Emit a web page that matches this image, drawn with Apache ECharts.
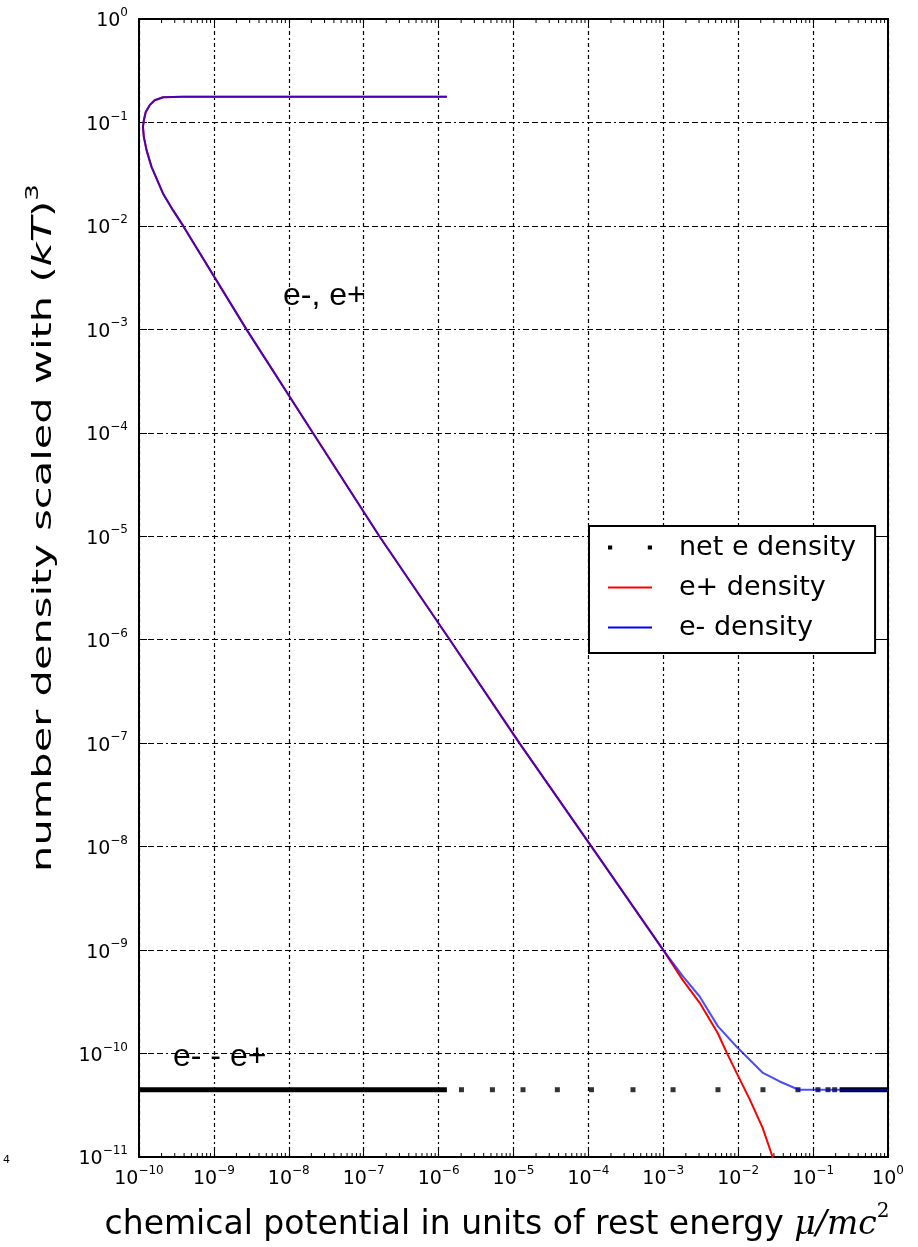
<!DOCTYPE html>
<html>
<head>
<meta charset="utf-8">
<script src="https://cdn.jsdelivr.net/npm/echarts@6/dist/echarts.min.js"></script>
<style>
  html, body { margin: 0; padding: 0; background: #fff; }
  #chart { width: 918px; height: 1247px; }
</style>
</head>
<body>
<div id="chart"></div>
<script>
// shared e+/e- curve (both coincide up to mu ~ 1e-3)
const pairMu = [1.29e-6, 1e-7, 1e-8, 1e-9, 3.9e-10, 2.1e-10, 1.62e-10, 1.39e-10, 1.23e-10, 1.16e-10, 1.13e-10,
  1.16e-10, 1.26e-10, 1.47e-10, 2.09e-10, 2.84e-10, 3.89e-10, 2.72e-9, 2.09e-8,
  1.62e-7, 1.41e-6, 1.2e-5, 1.1e-4, 1e-3]
const pairN = [0.177, 0.177, 0.177, 0.177, 0.177, 0.175, 0.164, 0.147, 0.126, 0.105, 0.0907,
  0.0726, 0.054, 0.0372, 0.0206, 0.0142, 0.01, 1e-3, 1e-4,
  1e-5, 1e-6, 1e-7, 1e-8, 1e-9]

// tails after they split
const ePlusMu = [1.82e-3, 3.06e-3, 5.32e-3, 7.02e-3, 9.55e-3, 0.0142, 0.0212, 0.0288, 0.0355]
const ePlusN = [5.13e-10, 3.09e-10, 1.58e-10, 1.02e-10, 6.46e-11, 3.63e-11, 1.91e-11, 1.0e-11, 6.3e-12]
const eMinusMu = [1.83e-3, 3.06e-3, 5.37e-3, 9.46e-3, 0.0214, 0.0358, 0.0643, 1]
const eMinusN = [5.56e-10, 3.56e-10, 1.83e-10, 1.17e-10, 6.49e-11, 5.37e-11, 4.47e-11, 4.47e-11]

// net e density
const netN = 4.47e-11
const netLeftMu = [1e-10, 1.29e-6]
const netDotsMu = [2.02e-6, 5.23e-6, 1.34e-5, 3.85e-5, 1.1e-4, 3.94e-4, 1.35e-3, 5.37e-3, 0.0214,
  0.0628, 0.116, 0.158, 0.194]
const netRightMu = [0.226, 1]

const xMin = 1e-10, xMax = 1
const yMin = 1e-11, yMax = 1

const zip = (xs, ys) => xs.map((x, i) => [x, ys[i]])
const pairData = zip(pairMu, pairN)

// minor ticks of the x axis (2..9 in each decade)
const minorTicks = []
for (let e = -10; e < 0; e++) {
  for (let k = 2; k <= 9; k++) minorTicks.push([k * Math.pow(10, e), yMin])
}

const font = 'DejaVu Sans'
const supLabel = v => {
  const e = Math.round(Math.log10(v))
  return '{b|10}{e|' + String(e).replace('-', '\u2212') + '}'
}
const tickRich = {
  b: { fontFamily: font, fontSize: 19, color: '#000', lineHeight: 24, verticalAlign: 'bottom' },
  e: { fontFamily: font, fontSize: 12, color: '#000', lineHeight: 13, verticalAlign: 'top' }
}
const hGrid = { color: '#000', width: 1.2, type: [6, 3, 6, 3, 6, 3, 2, 3] }
const vGrid = { color: '#000', width: 1.2, type: [4, 3, 2, 3] }

const chart = echarts.init(document.getElementById('chart'), null, { renderer: 'canvas' })

chart.setOption({
  animation: false,
  backgroundColor: '#fff',
  grid: {
    left: 139, right: 30, top: 19, bottom: 90,
    show: true, borderColor: '#000', borderWidth: 2, backgroundColor: 'transparent'
  },
  legend: {
    orient: 'vertical',
    left: 589,
    top: 526,
    padding: [8, 19, 12, 19],
    itemGap: 13,
    itemWidth: 44,
    itemHeight: 14,
    symbolKeepAspect: true,
    borderColor: '#000',
    borderWidth: 2,
    backgroundColor: '#fff',
    textStyle: { fontFamily: font, fontSize: 27, color: '#000', lineHeight: 27, padding: [0, 0, 0, 22] },
    data: [
      { name: 'net e density', icon: 'path://M0,0 L4,0 L4,4 L0,4 Z M38,0 L42,0 L42,4 L38,4 Z', itemStyle: { color: '#000' } },
      { name: 'e+ density', icon: 'path://M0,0 L44,0 L44,2 L0,2 Z', itemStyle: { color: '#ff0000' } },
      { name: 'e- density', icon: 'path://M0,0 L44,0 L44,2 L0,2 Z', itemStyle: { color: '#0000ff' } }
    ]
  },
  xAxis: [
    {
      type: 'log', logBase: 10, min: xMin, max: xMax, interval: 1,
      axisLine: { show: false },
      axisTick: { inside: true, length: 8, lineStyle: { color: '#000', width: 1 } },
      axisLabel: { margin: 8, formatter: supLabel, rich: tickRich },
      splitLine: { show: true, lineStyle: vGrid }
    },
    {
      type: 'log', logBase: 10, min: xMin, max: xMax, interval: 1, position: 'top',
      axisLine: { show: false },
      axisTick: { inside: true, length: 8, lineStyle: { color: '#000', width: 1 } },
      axisLabel: { show: false },
      splitLine: { show: false }
    }
  ],
  yAxis: [
    {
      type: 'log', logBase: 10, min: yMin, max: yMax, interval: 1,
      axisLine: { show: false },
      axisTick: { inside: true, length: 8, lineStyle: { color: '#000', width: 1 } },
      axisLabel: { margin: 11, formatter: supLabel, rich: tickRich },
      splitLine: { show: true, lineStyle: hGrid }
    },
    {
      type: 'log', logBase: 10, min: yMin, max: yMax, interval: 1, position: 'right',
      axisLine: { show: false },
      axisTick: { inside: true, length: 8, lineStyle: { color: '#000', width: 1 } },
      axisLabel: { show: false },
      splitLine: { show: false }
    }
  ],
  graphic: [
    {
      type: 'text', x: 41, y: 528, rotation: Math.PI / 2, scaleX: 1.54,
      style: {
        text: '{n|number density scaled with }{p|(}{m|kT}{p|)}{s|3}',
        align: 'center', verticalAlign: 'middle',
        rich: {
          n: { fontFamily: font, fontSize: 27, fill: '#000', lineHeight: 32, verticalAlign: 'bottom' },
          p: { fontFamily: font, fontSize: 27, fill: '#000', lineHeight: 32, verticalAlign: 'bottom' },
          m: { fontFamily: 'DejaVu Sans', fontStyle: 'italic', fontSize: 27, fill: '#000', lineHeight: 32, verticalAlign: 'bottom' },
          s: { fontFamily: font, fontSize: 17, fill: '#000', lineHeight: 18, verticalAlign: 'top' }
        }
      }
    },
    {
      type: 'text', x: 497, y: 1222,
      style: {
        text: '{n|chemical potential in units of rest energy }{m|\u03bc/mc}{s|2}',
        align: 'center', verticalAlign: 'middle',
        rich: {
          n: { fontFamily: font, fontSize: 33, fill: '#000', lineHeight: 40, verticalAlign: 'bottom' },
          m: { fontFamily: 'DejaVu Serif', fontStyle: 'italic', fontSize: 33, fill: '#000', lineHeight: 40, verticalAlign: 'bottom' },
          s: { fontFamily: 'DejaVu Serif', fontSize: 20, fill: '#000', lineHeight: 20, verticalAlign: 'top' }
        }
      }
    },
    {
      type: 'text', x: 283, y: 280,
      style: { text: 'e-, e+', fontFamily: 'Liberation Sans', fontSize: 32, fill: '#000', verticalAlign: 'alphabetic' }
    },
    {
      type: 'text', x: 173, y: 1041,
      style: { text: 'e- - e+', fontFamily: 'Liberation Sans', fontSize: 32, fill: '#000', verticalAlign: 'alphabetic' }
    },
    {
      type: 'text', x: 3, y: 1160,
      style: { text: '4', fontFamily: font, fontSize: 11, fill: '#000', verticalAlign: 'middle' }
    }
  ],
  series: [
    {
      name: 'minor', type: 'custom', silent: true, clip: false, z: 1,
      data: minorTicks,
      renderItem: (params, api) => {
        const v = api.value(0)
        const b = api.coord([v, yMin])
        const t = api.coord([v, yMax])
        return {
          type: 'group',
          children: [
            { type: 'line', shape: { x1: b[0], y1: b[1], x2: b[0], y2: b[1] - 4 }, style: { stroke: '#000', lineWidth: 1 } },
            { type: 'line', shape: { x1: t[0], y1: t[1], x2: t[0], y2: t[1] + 4 }, style: { stroke: '#000', lineWidth: 1 } }
          ]
        }
      }
    },
    {
      name: 'net e density', type: 'line', symbol: 'none', z: 3,
      lineStyle: { color: '#000', width: 5 },
      data: netLeftMu.map(x => [x, netN])
    },
    {
      name: 'net e density', type: 'line', symbol: 'none', z: 3,
      lineStyle: { color: '#000', width: 5 },
      data: netRightMu.map(x => [x, netN])
    },
    {
      name: 'net e density', type: 'scatter', symbol: 'rect', symbolSize: 5, z: 3,
      itemStyle: { color: '#000' },
      data: netDotsMu.map(x => [x, netN])
    },
    {
      name: 'e+ density', type: 'line', symbol: 'none', z: 4,
      lineStyle: { color: '#ff0000', width: 2 },
      data: pairData.concat(zip(ePlusMu, ePlusN))
    },
    {
      name: 'e- density', type: 'line', symbol: 'none', z: 5,
      lineStyle: { color: '#0000ff', width: 2, opacity: 0.7 },
      data: pairData.concat(zip(eMinusMu, eMinusN))
    }
  ]
})
</script>
</body>
</html>
